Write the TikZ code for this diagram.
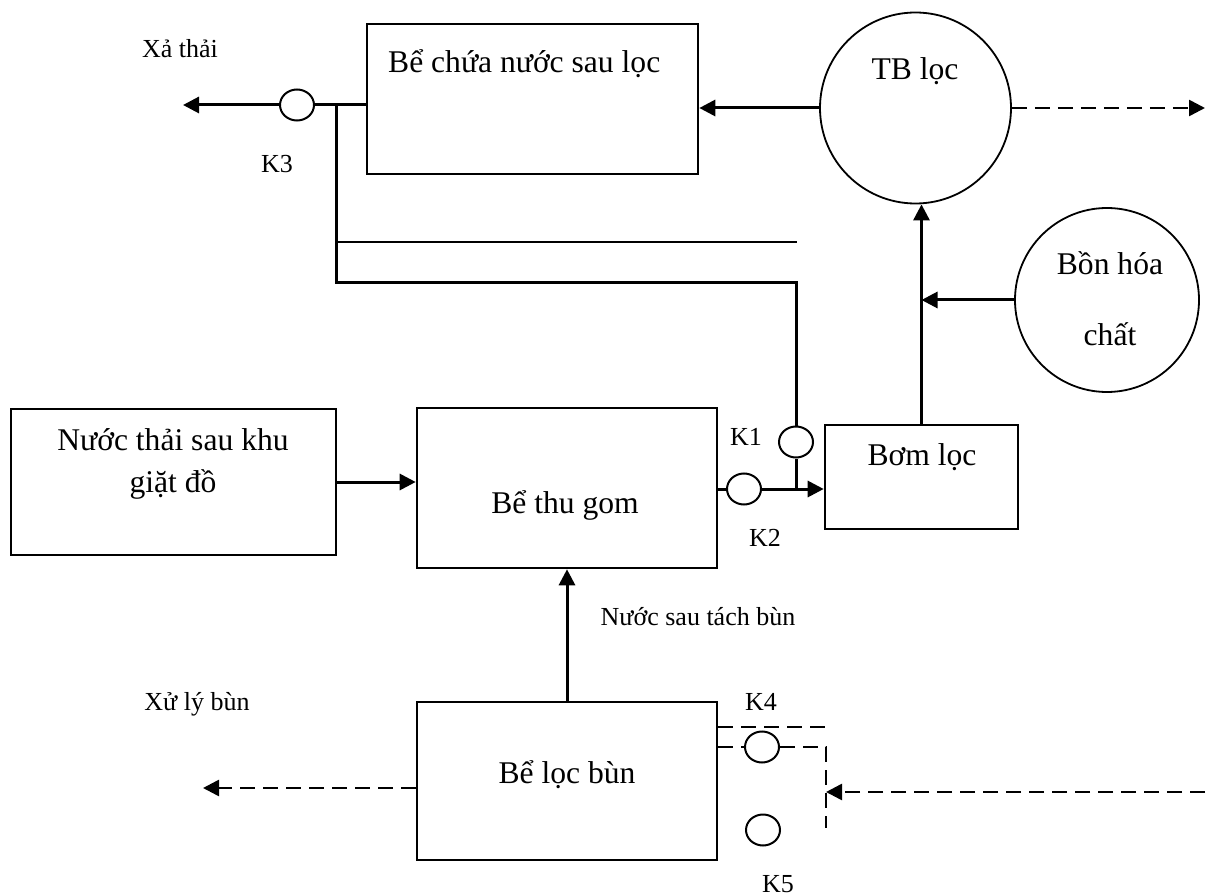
\documentclass[tikz,border=0pt]{standalone}
\usepackage{fontspec}
\setmainfont{Liberation Serif}
\usetikzlibrary{shapes.geometric,arrows.meta}
\begin{document}
\begin{tikzpicture}[x=1pt,y=-1pt,
  box/.style={draw,line width=2.6pt,inner sep=0pt},
  big/.style={font=\fontsize{31.6}{40}\selectfont,inner sep=0pt},
  small/.style={font=\fontsize{26}{30}\selectfont,inner sep=0pt},
  valve/.style={draw,ellipse,line width=2pt,minimum width=34pt,minimum height=31pt,inner sep=0pt},
  tank/.style={draw,circle,line width=1.8pt,inner sep=0pt},
  pipe/.style={line width=3pt},
  thinpipe/.style={line width=1.5pt},
  flow/.style={pipe,-{Triangle[length=16pt,width=16pt]}},
  dpipe/.style={line width=2.6pt,dash pattern=on 15pt off 8pt},
  dflow/.style={dpipe,-{Triangle[length=16pt,width=16pt]}}
]
\useasboundingbox (0,0) rectangle (1211,896);

% boxes
\node[box,minimum width=331pt,minimum height=150pt] (chua) at (532.5,99) {};
\node[big,anchor=base west] (chuaT) at (388,73) {Bể chứa nước sau lọc};
\node[box,minimum width=325pt,minimum height=146pt] (nt) at (173.5,482) {};
\node[big,anchor=base] (ntT1) at (173,450) {Nước thải sau khu};
\node[big,anchor=base] (ntT2) at (173,492) {giặt đồ};
\node[box,minimum width=300pt,minimum height=160pt] (thugom) at (567,488) {};
\node[big,anchor=base] (thugomT) at (565,513) {Bể thu gom};
\node[box,minimum width=193pt,minimum height=104pt] (bom) at (921.5,477) {};
\node[big,anchor=base] (bomT) at (922,465) {Bơm lọc};
\node[box,minimum width=300pt,minimum height=158pt] (locbun) at (567,781) {};
\node[big,anchor=base] (locbunT) at (567,783) {Bể lọc bùn};

% tanks
\node[tank,minimum size=191pt] (tb) at (915.5,108) {};
\node[big,anchor=base] (tbT) at (915,80) {TB lọc};
\node[tank,minimum size=184pt] (bon) at (1107,300) {};
\node[big,anchor=base] (bonT1) at (1110,275) {Bồn hóa};
\node[big,anchor=base] (bonT2) at (1110,345) {chất};

% valves
\node[valve] (K3) at (297,105) {};
\node[valve] (K2) at (744,489) {};
\node[valve] (K1) at (796,442) {};
\node[valve] (K4) at (762,747) {};
\node[valve] (K5) at (763,830) {};

% labels
\node[small,anchor=base] (xaT) at (180,58) {Xả thải};
\node[small,anchor=base] (K3T) at (277,173) {K3};
\node[small,anchor=base] (K1T) at (746,445) {K1};
\node[small,anchor=base] (K2T) at (765,546) {K2};
\node[small,anchor=base] (K4T) at (761,710) {K4};
\node[small,anchor=base] (K5T) at (778,892) {K5};
\node[small,anchor=base] (nstbT) at (698,625) {Nước sau tách bùn};
\node[small,anchor=base] (xlbT) at (197,710) {Xử lý bùn};

% coordinates
\coordinate (xa) at (183,105);
\coordinate (jt) at (336,105);
\coordinate (jb) at (336,283);
\coordinate (jr) at (796,283);
\coordinate (thinL) at (336,242);
\coordinate (thinR) at (797,242);
\coordinate (outR) at (1205,108);
\coordinate (xlb) at (203,788);
\coordinate (k4u) at (826,727);
\coordinate (k4c) at (826,747);
\coordinate (k4d) at (826,828);
\coordinate (inR) at (1205,792);

% top pipes
\draw[flow] (tb.west) -- (tb.west -| chua.east);
\draw[dflow] (tb.east) -- (outR);
\draw[pipe] (K3 -| chua.west) -- (K3.east);
\draw[flow] (K3.west) -- (xa);
\draw[pipe] (jt) -- (jb) -- (jr) -- (K1.north);
\draw[thinpipe] (thinL) -- (thinR);

% pump and chemicals
\draw[flow] (bom.north) -- (bom.north |- tb.south);
\draw[flow] (bon.west) -- (bon.west -| bom.north);

% middle
\draw[flow] (nt.east) -- (nt.east -| thugom.west);
\draw[pipe] (K2 -| thugom.east) -- (K2.west);
\draw[flow] (K2.east) -- (K2 -| bom.west);
\draw[pipe] (K1.south) -- (K1 |- K2);

% bottom
\draw[flow] (locbun.north) -- (thugom.south);
\draw[dflow] (xlb -| locbun.west) -- (xlb);
\draw[dpipe] (k4u -| locbun.east) -- (k4u);
\draw[dpipe] (K4 -| locbun.east) -- (K4.west);
\draw[dpipe] (K4.east) -- (k4c) -- (k4d);
\draw[dflow] (inR) -- (inR -| k4c);
\end{tikzpicture}
\end{document}
